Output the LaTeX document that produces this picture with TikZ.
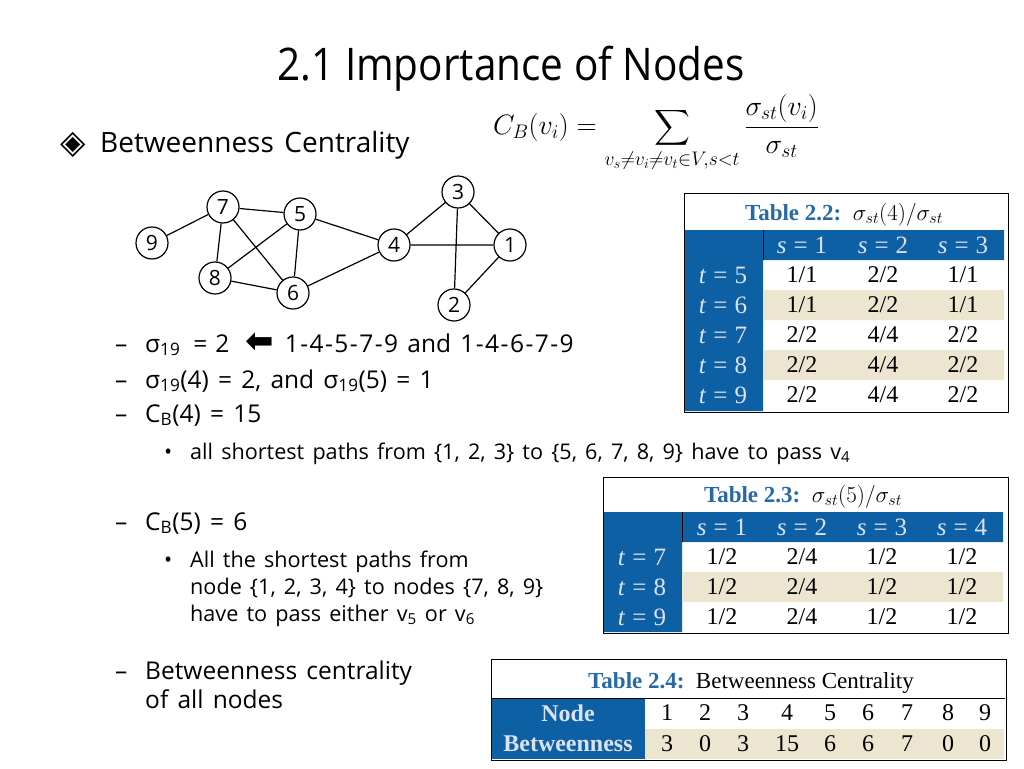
\RequirePackage{fix-cm}
\documentclass[tikz,border=0pt]{standalone}
\usepackage{amsmath}
\usepackage{fontspec}
\setmainfont[WordSpace=1.45]{Open Sans}
\newfontfamily\titlefont[FakeStretch=0.9]{Open Sans}
\newfontfamily\tabfont{Liberation Serif}
\newfontfamily\symfont{DejaVu Sans}
\definecolor{tblue}{RGB}{14,96,165}
\definecolor{ttan}{RGB}{236,229,208}
\definecolor{tcap}{RGB}{40,105,165}
\definecolor{tlight}{RGB}{218,226,238}
\newcommand\eqs{\hspace{7pt}=\hspace{7pt}}
\newcommand\wide[1]{{\addfontfeature{LetterSpace=6}#1}}
\tikzset{
	vtx/.style={circle,draw,line width=1.2pt,minimum size=32pt,inner sep=0pt,font=\fontsize{21}{21}\selectfont},
	edge/.style={line width=1.2pt},
	lvtwo/.style={anchor=base west,inner sep=0pt,font=\fontsize{24.5}{28}\selectfont},
	lvthree/.style={anchor=base west,inner sep=0pt,font=\fontsize{21.6}{24}\selectfont},
	cell/.style={inner sep=0pt,font=\tabfont\fontsize{24}{24}\selectfont},
	hcell/.style={inner sep=0pt,text=tlight,font=\tabfont\fontsize{25}{25}\selectfont},
	tcaption/.style={anchor=base,inner sep=0pt,font=\tabfont\fontsize{23}{23}\selectfont},
}
\begin{document}
\begin{tikzpicture}[x=1pt,y=-1pt]
	\useasboundingbox[fill=white] (0,0) rectangle (1024,768);
	% title and formula
	\node[anchor=base,inner sep=0pt,text depth=0pt,font=\titlefont\fontsize{45}{50}\selectfont] (title) at (511,80) {2.1 Importance of Nodes};
	\node[inner sep=0pt,font=\fontsize{28}{32}\selectfont] (formula) at (656,133)
		{$\displaystyle C_B(v_i)=\sum_{v_s\neq v_i\neq v_t\in V,s<t}\frac{\sigma_{st}(v_i)}{\sigma_{st}}$};
	\node[anchor=base west,inner sep=0pt,font=\symfont\fontsize{33}{33}\selectfont] (dia) at (60,153) {◈};
	\node[anchor=base west,inner sep=0pt,font=\fontsize{28}{32}\selectfont] (head) at (100,152) {Betweenness Centrality};
	% graph
	\node[vtx] (n7) at (223,207) {7};
	\node[vtx] (n5) at (300,214) {5};
	\node[vtx] (n9) at (152,243) {9};
	\node[vtx] (n8) at (215,278) {8};
	\node[vtx] (n6) at (293,293) {6};
	\node[vtx] (n4) at (394,245) {4};
	\node[vtx] (n3) at (458,192) {3};
	\node[vtx] (n1) at (510,245) {1};
	\node[vtx] (n2) at (454,305) {2};
	\draw[edge] (n9)--(n7) (n7)--(n5) (n7)--(n8) (n7)--(n6) (n5)--(n8) (n5)--(n6) (n5)--(n4);
	\draw[edge] (n8)--(n6) (n6)--(n4) (n4)--(n3) (n4)--(n1) (n3)--(n1) (n3)--(n2) (n2)--(n1);
	% bullet text
	\node[lvtwo] (d1) at (115,352) {–};
	\node[lvtwo] (l1) at (145,352) {σ\textsubscript{19}\hspace{13pt}=\hspace{8pt}2\hspace{16pt}{\symfont\bfseries\fontsize{34}{34}\selectfont ⬅}\hspace{11pt}\wide{1-4-5-7-9} and \wide{1-4-6-7-9}};
	\node[lvtwo] (d2) at (115,388) {–};
	\node[lvtwo] (l2) at (145,388) {σ\textsubscript{19}(4) = 2, and σ\textsubscript{19}(5) = 1};
	\node[lvtwo] (d3) at (115,422) {–};
	\node[lvtwo] (l3) at (145,422) {C\textsubscript{B}(4) = 15};
	\node[lvthree] (b1) at (164,459) {•};
	\node[lvthree] (l4) at (190,459) {all shortest paths from \{1, 2, 3\} to \{5, 6, 7, 8, 9\} have to pass v\textsubscript{4}};
	\node[lvtwo] (d4) at (115,530) {–};
	\node[lvtwo] (l5) at (145,530) {C\textsubscript{B}(5) = 6};
	\node[lvthree] (b2) at (164,567) {•};
	\node[lvthree] (l6) at (190,567) {All the shortest paths from};
	\node[lvthree] (l7) at (190,594) {node \{1, 2, 3, 4\} to nodes \{7, 8, 9\}};
	\node[lvthree] (l8) at (190,621) {have to pass either v\textsubscript{5} or v\textsubscript{6}};
	\node[lvtwo] (d5) at (115,679) {–};
	\node[lvtwo] (l9) at (145,679) {Betweenness centrality};
	\node[lvtwo] (l10) at (145,708) {of all nodes};
	% table 2.2
	\fill[tblue] (685,230) rectangle (1004,260) (685,230) rectangle (763,411);
	\fill[ttan] (763,290) rectangle (1004,320) (763,350) rectangle (1004,380);
	\draw[line width=0.8pt] (763,230)--(763,260);
	\draw[line width=1pt] (684,193) rectangle (1008,412);
	\node[tcaption] (cap2) at (844,220) {{\bfseries\color{tcap}Table 2.2:}\ \ $\sigma_{st}(4)/\sigma_{st}$};
	\foreach \s/\x in {1/802,2/883,3/963}
		\node[hcell] at (\x,245) {\textit{s}\eqs\s};
	\foreach \t/\y/\a/\b/\c in {5/275/1\slash1/2\slash2/1\slash1,6/305/1\slash1/2\slash2/1\slash1,7/335/2\slash2/4\slash4/2\slash2,8/365/2\slash2/4\slash4/2\slash2,9/395/2\slash2/4\slash4/2\slash2}{
		\node[hcell] at (723,\y) {\textit{t}\eqs\t};
		\node[cell] at (802,\y) {\a};
		\node[cell] at (883,\y) {\b};
		\node[cell] at (963,\y) {\c};
	}
	% table 2.3
	\fill[tblue] (604,512) rectangle (1003,542) (604,512) rectangle (682,632);
	\fill[ttan] (682,572) rectangle (1003,602);
	\draw[line width=0.8pt] (682,512)--(682,542);
	\draw[line width=1pt] (603,477) rectangle (1008,633);
	\node[tcaption] (cap3) at (803,502) {{\bfseries\color{tcap}Table 2.3:}\ \ $\sigma_{st}(5)/\sigma_{st}$};
	\foreach \s/\x in {1/722,2/802,3/882,4/962}
		\node[hcell] at (\x,527) {\textit{s}\eqs\s};
	\foreach \t/\y in {7/557,8/587,9/617}{
		\node[hcell] at (642,\y) {\textit{t}\eqs\t};
		\node[cell] at (722,\y) {1\slash2};
		\node[cell] at (802,\y) {2\slash4};
		\node[cell] at (882,\y) {1\slash2};
		\node[cell] at (962,\y) {1\slash2};
	}
	% table 2.4
	\fill[tblue] (492,698) rectangle (645,759);
	\fill[ttan] (645,729) rectangle (1004,759);
	\draw[line width=0.6pt] (492,698)--(1005,698);
	\draw[line width=1pt] (491,659) rectangle (1006,760);
	\node[tcaption] (cap4) at (751,688) {{\bfseries\color{tcap}Table 2.4:}\ \ Betweenness Centrality};
	\node[hcell,font=\tabfont\bfseries\fontsize{24}{24}\selectfont] (rowa) at (568,713) {Node};
	\node[hcell,font=\tabfont\bfseries\fontsize{24}{24}\selectfont] (rowb) at (568,744) {Betweenness};
	\foreach \n/\v/\x in {1/3/667,2/0/705,3/3/743,4/15/787,5/6/830,6/6/868,7/7/907,8/0/948,9/0/985}{
		\node[cell] at (\x,713) {\n};
		\node[cell] at (\x,744) {\v};
	}
\end{tikzpicture}
\end{document}
